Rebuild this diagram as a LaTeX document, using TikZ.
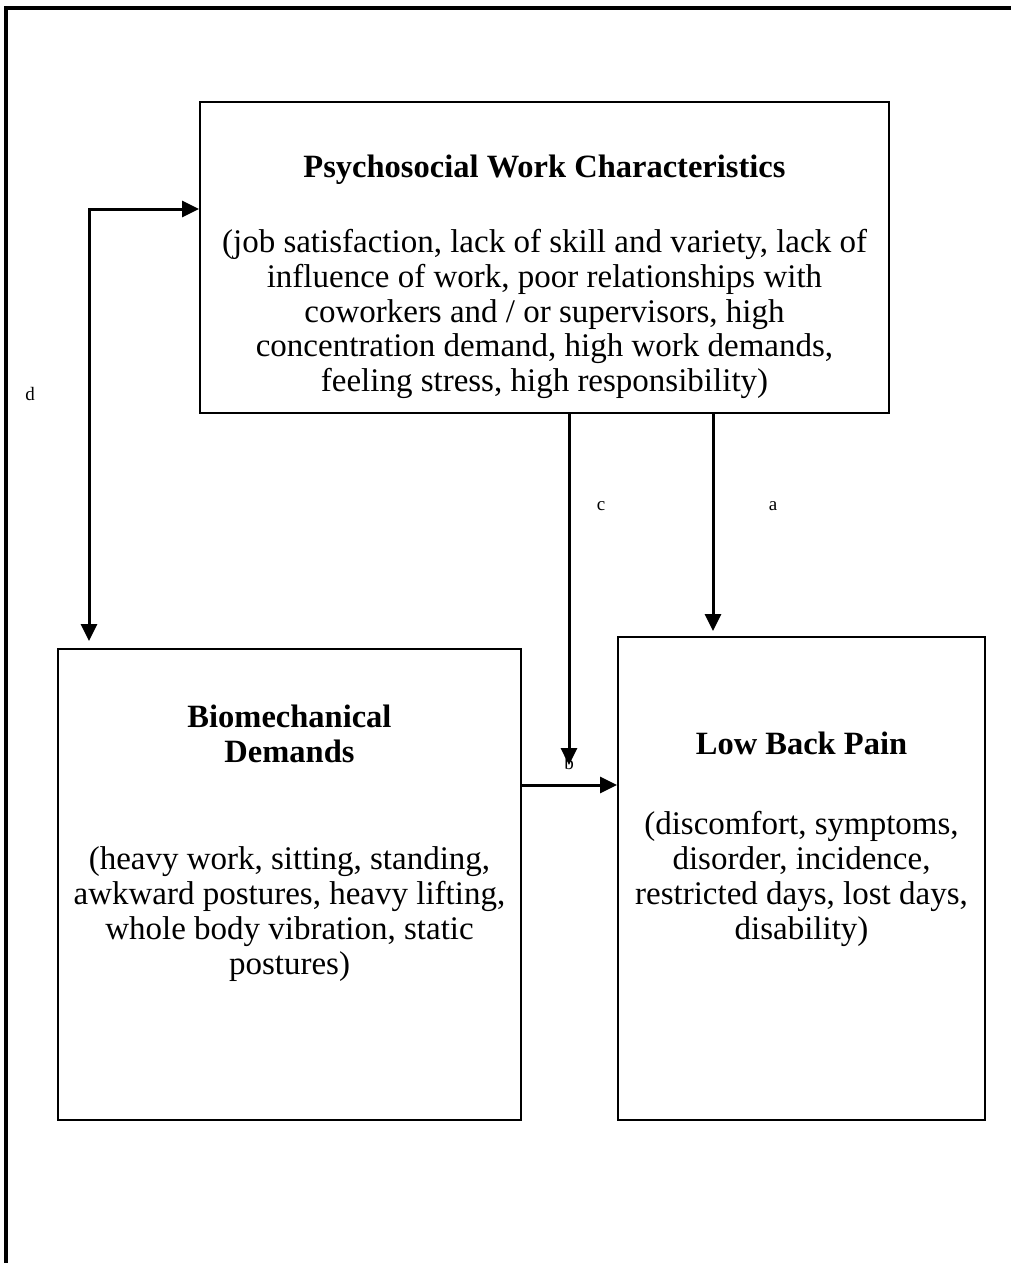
\documentclass[tikz,border=0pt]{standalone}
\usepackage{fontspec}
\setmainfont{Liberation Serif}
\usetikzlibrary{arrows.meta}
\tikzset{
  box/.style={draw, line width=2pt, minimum width=#1, inner sep=0pt},
  txt/.style={align=center, font=\fontsize{33}{34.8}\selectfont, inner sep=0pt},
  ttl/.style={align=center, font=\fontsize{32.5}{34.8}\selectfont\bfseries, inner sep=0pt},
  lbl/.style={font=\fontsize{19}{21}\selectfont, inner sep=0pt},
  arr/.style={line width=3pt, -{Triangle[length=17pt,width=16pt]}},
  darr/.style={line width=3pt, {Triangle[length=17pt,width=16pt]}-{Triangle[length=17pt,width=16pt]}},
}
\begin{document}
\begin{tikzpicture}[x=1pt,y=-1pt]
\useasboundingbox (0,0) rectangle (1011,1263);
% outer frame (top and left only)
\draw[line width=4pt] (6,1263) -- (6,8.5) -- (1011,8.5);
% boxes
\node[box=689pt, minimum height=311pt] (psy) at (544.5,257.5) {};
\node[box=463pt, minimum height=471pt] (bio) at (289.5,884.5) {};
\node[box=367pt, minimum height=483pt] (lbp) at (801.5,878.5) {};
% texts
\node[ttl] (psyt) at (544.5,170) {Psychosocial Work Characteristics};
\node[txt] (psyb) at (544.5,314) {(job satisfaction, lack of skill and variety, lack of\\influence of work, poor relationships with\\coworkers and / or supervisors, high\\concentration demand, high work demands,\\feeling stress, high responsibility)};
\node[ttl] (biot) at (289.5,734) {Biomechanical\\Demands};
\node[txt] (biob) at (289.5,914) {(heavy work, sitting, standing,\\awkward postures, heavy lifting,\\whole body vibration, static\\postures)};
\node[ttl] (lbpt) at (801.5,743) {Low Back Pain};
\node[txt] (lbpb) at (801.5,879) {(discomfort, symptoms,\\disorder, incidence,\\restricted days, lost days,\\disability)};
% connectors
\coordinate (dc) at (89,209);
\coordinate (ax) at (713,0);
\coordinate (cx) at (569,0);
\coordinate (cend) at (569,765);
\coordinate (by) at (0,785);
\draw[darr, shorten <=7pt] (bio.north -| dc) -- (dc) -- (psy.west |- dc);
\draw[arr, shorten >=5pt] (psy.south -| ax) -- (lbp.north -| ax);
\draw[arr] (psy.south -| cx) -- (cend);
\draw[arr] (bio.east |- by) -- (lbp.west |- by);
% labels
\node[lbl] (la) at (773,506) {a};
\node[lbl] (lc) at (601,506) {c};
\node[lbl] (ld) at (30,394) {d};
\node[lbl] (lb) at (569,763) {b};
\end{tikzpicture}
\end{document}
